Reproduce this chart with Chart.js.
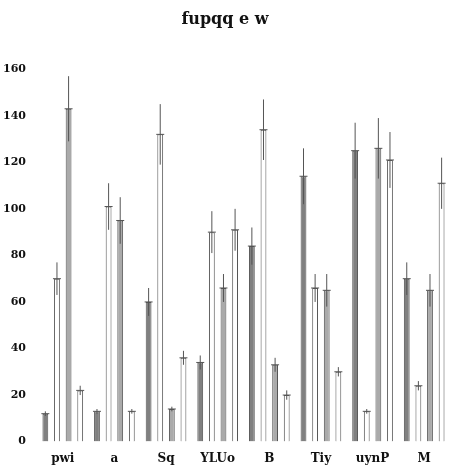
<!DOCTYPE html>
<html><head><meta charset="utf-8">
<script src="https://cdn.jsdelivr.net/npm/chart.js@4"></script>
<style>body{margin:0;background:#fff}#wrap{width:474px;height:474px}</style>
</head><body><div id="wrap"><canvas id="c"></canvas></div>
<script>
const categories = ['pwi','a','Sq','YLUo','B','Tiy','uynP','M'];
const s1 = [12,13,60,34,84,114,125,70];
const s2 = [70,101,132,90,134,66,13,24];
const s3 = [143,95,14,66,33,65,126,65];
const s4 = [22,13,36,91,20,30,121,111];
const e1 = [1,1,6,3,8,12,12,7];
const e2 = [7,10,13,9,13,6,1,2];
const e3 = [14,10,1,6,3,7,13,7];
const e4 = [2,1,3,9,2,2,12,11];
const errs = [e1,e2,e3,e4];
const fills = ['#808080','#ffffff','#aaaaaa','#ffffff'];

const errorBars = {
  id: 'errorBars',
  afterDatasetsDraw(chart) {
    const ctx = chart.ctx, y = chart.scales.y;
    ctx.save();
    ctx.strokeStyle = '#555';
    ctx.lineWidth = 1;
    chart.data.datasets.forEach((ds, i) => {
      chart.getDatasetMeta(i).data.forEach((bar, j) => {
        const v = ds.data[j], e = errs[i][j];
        const top = y.getPixelForValue(v + e), bot = y.getPixelForValue(v - e);
        ctx.beginPath();
        ctx.moveTo(bar.x, top); ctx.lineTo(bar.x, bot);
        ctx.moveTo(bar.x - 4, bar.y); ctx.lineTo(bar.x + 4, bar.y);
        ctx.stroke();
      });
    });
    ctx.restore();
  }
};

Chart.defaults.font.family = '"DejaVu Serif", serif';
Chart.defaults.color = '#111';
new Chart(document.getElementById('c'), {
  type: 'bar',
  data: {
    labels: categories,
    datasets: [s1,s2,s3,s4].map((d, i) => ({
      data: d, backgroundColor: fills[i], borderColor: '#555', borderWidth: 1,
      barPercentage: 0.5, categoryPercentage: 0.9
    }))
  },
  options: {
    responsive: true, maintainAspectRatio: false, animation: false,
    layout: { padding: { right: 24, top: 10, bottom: 6 } },
    plugins: {
      legend: { display: false },
      title: { display: true, text: 'fupqq e w', font: { size: 16, weight: 'bold' }, padding: { bottom: 40 } }
    },
    scales: {
      x: { grid: { display: false }, border: { display: false }, ticks: { padding: 2, font: { size: 12, weight: 'bold' } } },
      y: { min: 0, max: 160, grid: { display: false }, border: { display: false },
           ticks: { stepSize: 20, font: { size: 11, weight: 'bold' } } }
    }
  },
  plugins: [errorBars]
});
</script></body></html>
